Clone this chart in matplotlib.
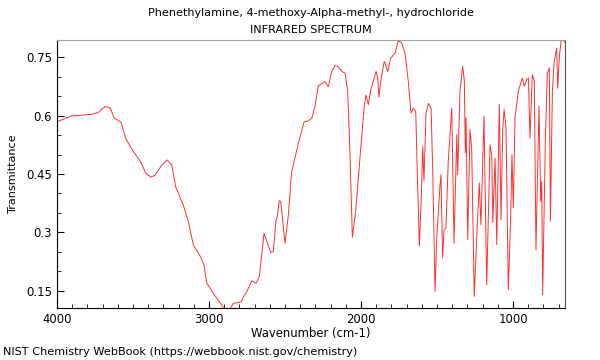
import matplotlib
matplotlib.use("Agg")
import matplotlib.pyplot as plt
from matplotlib.ticker import MultipleLocator

title_line1 = "Phenethylamine, 4-methoxy-Alpha-methyl-, hydrochloride"
title_line2 = "INFRARED SPECTRUM"
x_label = "Wavenumber (cm-1)"
y_label = "Transmittance"
footer = "NIST Chemistry WebBook (https://webbook.nist.gov/chemistry)"

wavenumber = [
    4000, 3903, 3772, 3728, 3684, 3651, 3623, 3579, 3548, 3505, 3447, 3416,
    3384, 3355, 3311, 3274, 3245, 3219, 3169, 3136, 3103, 3059, 3033, 3015,
    2961, 2906, 2895, 2870, 2840, 2785, 2774, 2752, 2719, 2691, 2669, 2638,
    2594, 2577, 2559, 2551, 2538, 2528, 2500, 2478, 2456, 2412, 2375, 2347,
    2324, 2303, 2281, 2237, 2215, 2193, 2171, 2149, 2127, 2105, 2088, 2072,
    2057, 2035, 2007, 1980, 1967, 1952, 1936, 1919, 1901, 1890, 1882, 1870,
    1847, 1824, 1805, 1776, 1755, 1732, 1711, 1689, 1671, 1656, 1640, 1630,
    1616, 1603, 1594, 1586, 1579, 1572, 1557, 1539, 1528, 1513, 1502, 1480,
    1474, 1463, 1454, 1441, 1426, 1403, 1388, 1370, 1364, 1349, 1331, 1320,
    1314, 1309, 1298, 1283, 1272, 1255, 1235, 1222, 1211, 1191, 1173, 1151,
    1140, 1133, 1118, 1107, 1090, 1079, 1068, 1059, 1046, 1031, 1015, 1007,
    998, 987, 965, 939, 926, 910, 899, 888, 873, 860, 849, 829,
    818, 811, 805, 787, 774, 761, 754, 741, 730, 713, 706, 695,
    684, 673, 658,
]
transmittance = [
    0.584, 0.599, 0.603, 0.608, 0.623, 0.620, 0.593, 0.583, 0.541, 0.512, 0.479, 0.452,
    0.442, 0.447, 0.473, 0.486, 0.473, 0.417, 0.370, 0.328, 0.268, 0.240, 0.217, 0.170,
    0.138, 0.108, 0.100, 0.100, 0.118, 0.123, 0.135, 0.148, 0.176, 0.170, 0.187, 0.298,
    0.249, 0.251, 0.332, 0.341, 0.382, 0.379, 0.272, 0.345, 0.456, 0.529, 0.583, 0.586,
    0.593, 0.623, 0.676, 0.687, 0.674, 0.712, 0.728, 0.725, 0.713, 0.709, 0.664, 0.495,
    0.288, 0.354, 0.491, 0.619, 0.653, 0.628, 0.666, 0.688, 0.713, 0.696, 0.647, 0.688,
    0.739, 0.713, 0.747, 0.760, 0.792, 0.786, 0.760, 0.688, 0.606, 0.619, 0.611, 0.457,
    0.265, 0.397, 0.521, 0.433, 0.521, 0.606, 0.631, 0.619, 0.457, 0.149, 0.286, 0.423,
    0.448, 0.235, 0.307, 0.312, 0.483, 0.619, 0.273, 0.551, 0.448, 0.662, 0.726, 0.688,
    0.504, 0.594, 0.282, 0.564, 0.517, 0.136, 0.320, 0.427, 0.320, 0.598, 0.166, 0.525,
    0.498, 0.326, 0.491, 0.269, 0.628, 0.333, 0.559, 0.615, 0.568, 0.153, 0.346, 0.500,
    0.363, 0.594, 0.662, 0.696, 0.675, 0.692, 0.696, 0.542, 0.705, 0.688, 0.256, 0.624,
    0.380, 0.431, 0.140, 0.542, 0.709, 0.722, 0.329, 0.662, 0.735, 0.773, 0.670, 0.752,
    0.790, 0.794, 0.788,
]

fs = 8.1
fs_ax = 8.4
fig = plt.figure(figsize=(6, 3.6), dpi=100)
ax = fig.add_axes([57 / 600, 1 - 308 / 360, 508 / 600, 268 / 360])
ax.plot(wavenumber, transmittance, color="#ff3030", linewidth=0.7)
ax.set_xlim(4000, 658)
ax.set_ylim(0.1064, 0.7936)

ax.xaxis.set_major_locator(MultipleLocator(1000))
ax.xaxis.set_minor_locator(MultipleLocator(100))
ax.yaxis.set_minor_locator(MultipleLocator(0.05))
ax.set_yticks([0.15, 0.3, 0.45, 0.6, 0.75])
ax.set_yticklabels(["0.15", "0.3", "0.45", "0.6", "0.75"])
ax.tick_params(axis="both", which="both", direction="in", labelsize=fs_ax,
               top=False, right=False)
ax.tick_params(axis="both", which="major", length=5)
ax.tick_params(axis="both", which="minor", length=3)

ax.spines["top"].set_color("#a0a0a0")
ax.spines["right"].set_color("#505050")
ax.spines["left"].set_color("black")
ax.spines["bottom"].set_color("black")

ax.set_xlabel(x_label, fontsize=fs_ax, labelpad=1)
ax.set_ylabel(y_label, fontsize=fs, labelpad=6)
fig.text(311 / 600, 1 - 13 / 360, title_line1, ha="center", va="center", fontsize=fs)
fig.text(311 / 600, 1 - 30 / 360, title_line2, ha="center", va="center", fontsize=fs)
fig.text(3 / 600, 1 - 352 / 360, footer, ha="left", va="center", fontsize=fs)

fig.savefig("out.png", dpi=100)
